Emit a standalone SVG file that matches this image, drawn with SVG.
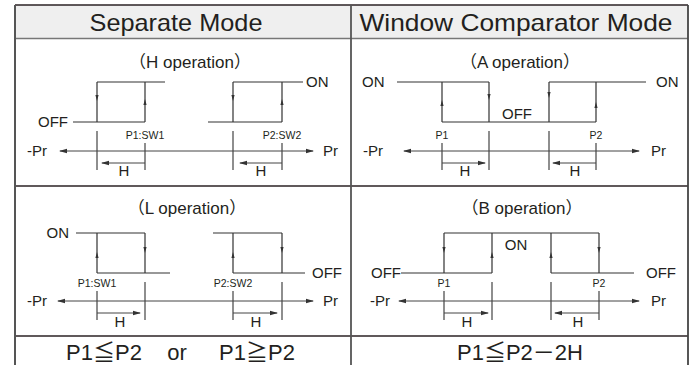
<svg xmlns="http://www.w3.org/2000/svg" width="694" height="365" viewBox="0 0 694 365">
<defs>
<style>
.ln{stroke:#333;stroke-width:1.2;fill:none}
.tk{stroke:#444;stroke-width:1.2;fill:none}
.ax{stroke:#444;stroke-width:1;fill:none}
.bd{stroke:#2b2224;stroke-width:1.6;fill:none}
.t{font-family:"Liberation Sans","Noto Sans CJK JP",sans-serif;fill:#231f20}
.hd{font-size:24px;text-anchor:middle}
.ti{font-size:17px;text-anchor:middle}
.lb{font-size:15px}
.sm{font-size:10.5px;text-anchor:middle}
.hl{font-size:15px;text-anchor:middle}
.ft{font-size:22px;text-anchor:middle}
.ah{fill:#333}
</style>
<path id="dn" d="M-1.6,-3 L1.6,-3 L0,3 Z"/>
<path id="up" d="M-1.6,3 L1.6,3 L0,-3 Z"/>
<marker id="arr" viewBox="0 0 8 6" refX="7" refY="3" markerWidth="8" markerHeight="6" markerUnits="userSpaceOnUse" orient="auto-start-reverse">
<path d="M0,0.8 L8,3 L0,5.2 Z" fill="#333"/>
</marker>
</defs>
<rect width="694" height="365" fill="#fff"/>

<g id="table">
<rect x="15" y="5" width="673" height="33.5" fill="#efefef"/>
<line class="bd" x1="15" y1="5" x2="688" y2="5"/>
<line class="bd" x1="15" y1="38.5" x2="688" y2="38.5" style="stroke:#777"/>
<line class="bd" x1="15" y1="186" x2="688" y2="186"/>
<line class="bd" x1="15" y1="336" x2="688" y2="336"/>
<line x1="15" y1="5" x2="15" y2="365" stroke="#555" stroke-width="2"/>
<line x1="351" y1="5" x2="351" y2="365" stroke="#555" stroke-width="1.8"/>
<line x1="688" y1="5" x2="688" y2="365" stroke="#444" stroke-width="1.8"/>
<text class="t hd" x="176" y="31" textLength="173" lengthAdjust="spacingAndGlyphs">Separate Mode</text>
<text class="t hd" x="516" y="31" textLength="313" lengthAdjust="spacingAndGlyphs">Window Comparator Mode</text>
</g>

<g id="h-operation">
<text class="t ti" x="190" y="68">（H operation）</text>
<path class="ln" d="M97,82 H165 M97,82 V122 M145,82 V122 M73,122 H145"/>
<path class="ln" d="M233,82 H303 M233,82 V122 M282,82 V122 M208,122 H282"/>
<use href="#dn" x="97" y="98" class="ah"/>
<use href="#up" x="145" y="102" class="ah"/>
<use href="#dn" x="233" y="98" class="ah"/>
<use href="#up" x="282" y="102" class="ah"/>
<text class="t lb" x="68" y="127" text-anchor="end">OFF</text>
<text class="t lb" x="306" y="87">ON</text>
<text class="t sm" x="145" y="139">P1:SW1</text>
<text class="t sm" x="282" y="139">P2:SW2</text>
<path class="tk" d="M97,131 V170 M145,143 V170 M233,131 V170 M282,143 V170"/>
<path class="ax" d="M60,151 H313" marker-start="url(#arr)" marker-end="url(#arr)"/>
<path class="ax" d="M145,163 H102" marker-end="url(#arr)"/>
<path class="ax" d="M282,163 H240" marker-end="url(#arr)"/>
<text class="t lb" x="27" y="156">-Pr</text>
<text class="t lb" x="323" y="156">Pr</text>
<text class="t hl" x="124" y="176">H</text>
<text class="t hl" x="261" y="176">H</text>
</g>

<g id="a-operation">
<text class="t ti" x="520" y="68">（A operation）</text>
<path class="ln" d="M397,82 H489 M442,82 V122 M489,82 V122 M442,122 H596 M549,82 V122 M549,82 H646 M596,82 V122"/>
<use href="#up" x="442" y="103" class="ah"/>
<use href="#dn" x="489" y="97" class="ah"/>
<use href="#dn" x="549" y="95" class="ah"/>
<use href="#up" x="596" y="105" class="ah"/>
<text class="t lb" x="362" y="87">ON</text>
<text class="t lb" x="656" y="87">ON</text>
<text class="t lb" x="517" y="119" text-anchor="middle">OFF</text>
<text class="t sm" x="442" y="139">P1</text>
<text class="t sm" x="596" y="139">P2</text>
<path class="tk" d="M442,143 V170 M489,131 V170 M549,131 V170 M596,143 V170"/>
<path class="ax" d="M404,151 H639" marker-start="url(#arr)" marker-end="url(#arr)"/>
<path class="ax" d="M442,163 H485" marker-end="url(#arr)"/>
<path class="ax" d="M596,163 H553" marker-end="url(#arr)"/>
<text class="t lb" x="363" y="156">-Pr</text>
<text class="t lb" x="651" y="156">Pr</text>
<text class="t hl" x="465" y="176">H</text>
<text class="t hl" x="575" y="176">H</text>
</g>

<g id="l-operation">
<text class="t ti" x="187" y="214">（L operation）</text>
<path class="ln" d="M76,233 H145 M97,233 V273 M145,233 V273 M97,273 H170"/>
<path class="ln" d="M213,233 H282 M233,233 V273 M282,233 V273 M233,273 H305"/>
<use href="#up" x="97" y="255" class="ah"/>
<use href="#dn" x="145" y="250" class="ah"/>
<use href="#up" x="233" y="255" class="ah"/>
<use href="#dn" x="282" y="250" class="ah"/>
<text class="t lb" x="69" y="238" text-anchor="end">ON</text>
<text class="t lb" x="312" y="278">OFF</text>
<text class="t sm" x="97" y="287">P1:SW1</text>
<text class="t sm" x="233" y="287">P2:SW2</text>
<path class="tk" d="M97,291 V320 M145,282 V320 M233,291 V320 M282,282 V320"/>
<path class="ax" d="M58,301 H313" marker-start="url(#arr)" marker-end="url(#arr)"/>
<path class="ax" d="M97,313 H140" marker-end="url(#arr)"/>
<path class="ax" d="M233,313 H277" marker-end="url(#arr)"/>
<text class="t lb" x="27" y="306">-Pr</text>
<text class="t lb" x="323" y="306">Pr</text>
<text class="t hl" x="120" y="327">H</text>
<text class="t hl" x="256" y="327">H</text>
</g>

<g id="b-operation">
<text class="t ti" x="522" y="214">（B operation）</text>
<path class="ln" d="M444,233 H599 M444,233 V273 M492,233 V273 M401,273 H492 M551,233 V273 M599,233 V273 M551,273 H634"/>
<use href="#dn" x="444" y="250" class="ah"/>
<use href="#up" x="492" y="255" class="ah"/>
<use href="#up" x="551" y="255" class="ah"/>
<use href="#dn" x="599" y="250" class="ah"/>
<text class="t lb" x="401" y="278" text-anchor="end">OFF</text>
<text class="t lb" x="646" y="278">OFF</text>
<text class="t lb" x="516" y="250" text-anchor="middle">ON</text>
<text class="t sm" x="444" y="287">P1</text>
<text class="t sm" x="599" y="287">P2</text>
<path class="tk" d="M444,291 V320 M492,282 V320 M551,282 V320 M599,291 V320"/>
<path class="ax" d="M399,301 H639" marker-start="url(#arr)" marker-end="url(#arr)"/>
<path class="ax" d="M444,313 H488" marker-end="url(#arr)"/>
<path class="ax" d="M599,313 H555" marker-end="url(#arr)"/>
<text class="t lb" x="370" y="306">-Pr</text>
<text class="t lb" x="651" y="306">Pr</text>
<text class="t hl" x="467" y="327">H</text>
<text class="t hl" x="578" y="327">H</text>
</g>

<g id="conditions">
<text class="t ft" x="104" y="360">P1≦P2</text>
<text class="t ft" x="177" y="360">or</text>
<text class="t ft" x="257" y="360">P1≧P2</text>
<text class="t ft" x="520" y="360">P1≦P2－2H</text>
</g>
</svg>
